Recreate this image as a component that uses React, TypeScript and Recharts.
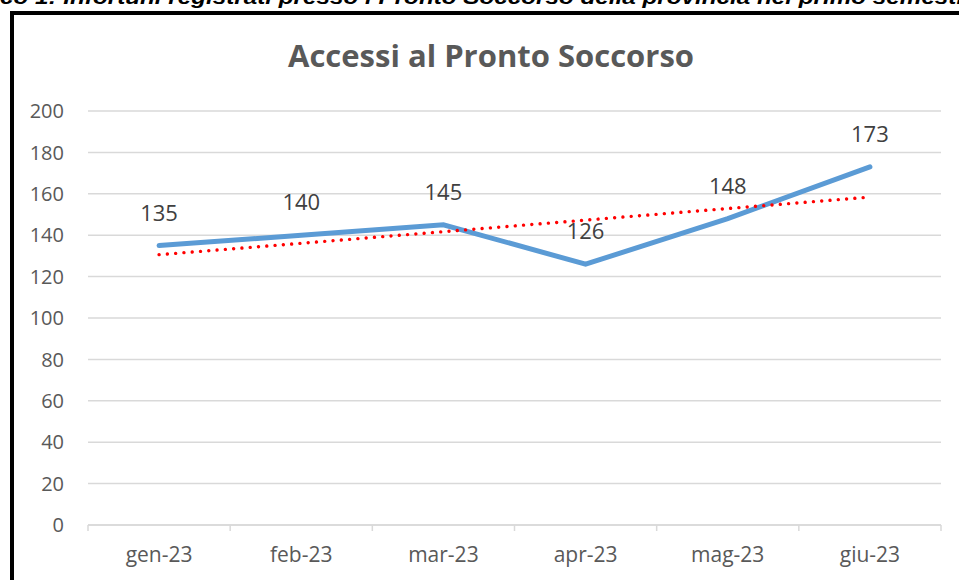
import React from 'react';
import { LineChart, Line, XAxis, YAxis, CartesianGrid, LabelList } from 'recharts';

const months = ['gen-23', 'feb-23', 'mar-23', 'apr-23', 'mag-23', 'giu-23'];
const accessi = [135, 140, 145, 126, 148, 173];
const tendenza = [130.6, 136.1, 141.7, 147.3, 152.9, 158.4];
const yTicks = [0, 20, 40, 60, 80, 100, 120, 140, 160, 180, 200];
const chartTitle = 'Accessi al Pronto Soccorso';
const caption = 'co 1: Infortuni registrati presso i Pronto Soccorso della provincia nel primo semestre 2023';

const data = months.map((m, i) => ({ month: m, value: accessi[i], trend: tendenza[i] }));

const W = 959;
const H = 580;
const M = { top: 111, right: 18, bottom: 15, left: 0 };
const Y_W = 88;
const X_H = 40;
const X_TICK_MARGIN = 16;
const HALF_BAND = (W - M.right - M.left - Y_W) / months.length / 2;
const FONT = '"Open Sans", "Noto Sans", sans-serif';

const XTick = (props: any) => {
  const { x, y, payload, index } = props;
  const axisY = y - X_TICK_MARGIN - 6;
  return (
    <g>
      <line x1={x - HALF_BAND} x2={x - HALF_BAND} y1={axisY} y2={axisY + 6} stroke="#d9d9d9" strokeWidth={1.5} />
      {index === months.length - 1 && (
        <line x1={x + HALF_BAND} x2={x + HALF_BAND} y1={axisY} y2={axisY + 6} stroke="#d9d9d9" strokeWidth={1.5} />
      )}
      <text x={x} y={y} dy="0.71em" textAnchor="middle" fill="#595959" fontSize={21} fontFamily={FONT}>
        {payload.value}
      </text>
    </g>
  );
};

export default function App() {
  return (
    <div style={{ position: 'fixed', left: 0, top: 0, width: W, height: H, overflow: 'hidden', background: '#fff' }}>
      <svg width={W} height={20} style={{ position: 'absolute', left: 0, top: 0 }}>
        <text x={0} y={4} fontSize={20} fontWeight="bold" fontStyle="italic" fontFamily='"Liberation Sans", sans-serif' textLength={1040} lengthAdjust="spacingAndGlyphs" fill="#000">
          {caption}
        </text>
      </svg>
      <div style={{ position: 'absolute', left: 10, top: 11, width: 2000, height: 2000, borderLeft: '4px solid #000', borderTop: '4px solid #000' }} />
      <div style={{ position: 'absolute', left: 0, top: 0 }}>
        <LineChart width={W} height={H} data={data} margin={M}>
          <text x={491} y={67} textAnchor="middle" fontSize={31} fontWeight="bold" fill="#595959" fontFamily={FONT}>
            {chartTitle}
          </text>
          <CartesianGrid vertical={false} stroke="#d9d9d9" strokeWidth={1.5} />
          <XAxis
            dataKey="month"
            height={X_H}
            tickLine={false}
            tickSize={6}
            tickMargin={X_TICK_MARGIN}
            padding={{ left: HALF_BAND, right: HALF_BAND }}
            axisLine={{ stroke: '#d9d9d9', strokeWidth: 1.5 }}
            tick={<XTick />}
            interval={0}
          />
          <YAxis
            width={Y_W}
            domain={[0, 200]}
            ticks={yTicks}
            axisLine={false}
            tickLine={false}
            tickMargin={18}
            tick={{ fill: '#595959', fontSize: 20, fontFamily: FONT }}
          />
          <Line type="linear" dataKey="value" stroke="#5B9BD5" strokeWidth={5} dot={false} isAnimationActive={false} strokeLinecap="round">
            <LabelList dataKey="value" position="top" offset={25} fill="#404040" fontSize={22} fontFamily={FONT} />
          </Line>
          <Line type="linear" dataKey="trend" stroke="#FF0000" strokeWidth={3.4} strokeDasharray="0.01 8.3" strokeLinecap="round" dot={false} isAnimationActive={false} />
        </LineChart>
      </div>
    </div>
  );
}
